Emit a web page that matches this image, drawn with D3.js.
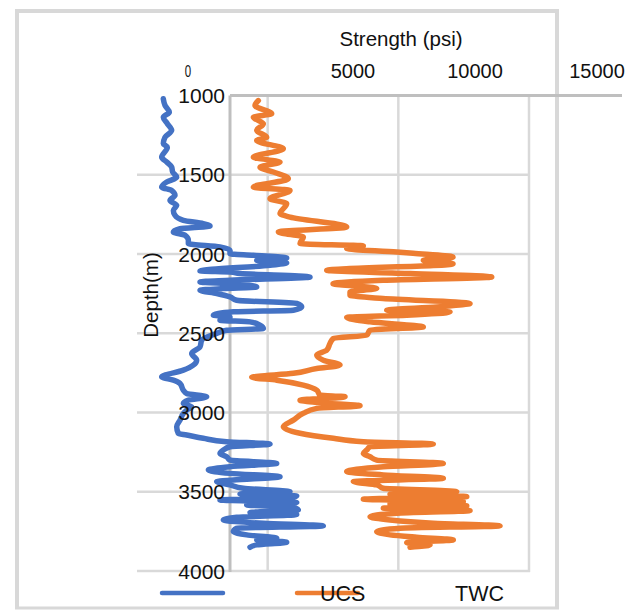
<!DOCTYPE html>
<html>
<head>
<meta charset="utf-8">
<script src="https://cdn.jsdelivr.net/npm/d3@7"></script>
<style>
  html, body { margin: 0; padding: 0; background: #fff; }
  svg { display: block; font-family: "Liberation Sans", Arial, sans-serif; }
</style>
</head>
<body>
<svg id="chart" width="638" height="611"></svg>
<script>
// Depth axis ticks (m) and strength axis ticks (psi)
const depthTicks = [1000, 1500, 2000, 2500, 3000, 3500, 4000];
const strengthTicks = [0, 5000, 10000, 15000];
const gridStrength = [5000, 10000, 15000];

// TWC log (blue): depth in m, strength in psi
const twcDepth = [1021,1063,1105,1137,1178,1220,1263,1304,1326,1389,1420,1452,1483,1515,1546,1578,1599,1630,1662,1693,1725,1756,1788,1808,1823,1840,1861,1882,1914,1934,1956,1977,1998,2008,2025,2040,2057,2071,2107,2113,2123,2145,2166,2176,2187,2208,2218,2229,2249,2271,2292,2312,2334,2355,2365,2386,2397,2418,2428,2449,2470,2481,2501,2544,2586,2628,2670,2701,2733,2775,2796,2817,2859,2880,2901,2922,2943,2964,2985,3006,3048,3090,3132,3142,3163,3184,3199,3216,3237,3258,3279,3300,3321,3342,3363,3384,3405,3426,3436,3457,3478,3499,3514,3526,3541,3552,3568,3583,3598,3615,3631,3644,3661,3678,3699,3715,3730,3751,3772,3793,3804,3818,3835,3850];
const twcValue = [1007,1072,1237,1007,1161,1327,1072,1007,1161,944,1136,1327,1365,1519,1136,944,1327,1454,1263,1519,1391,1454,1773,2537,2794,1646,1391,1837,1965,1965,3176,3559,3559,4452,5728,4580,5728,5090,2411,3559,3942,6621,3559,2411,3559,4580,3303,2411,3050,3559,3814,6112,6303,5982,3686,2921,3559,3176,4325,4707,4835,3431,3050,2474,2411,2092,2283,2155,1773,944,1391,1646,1773,1901,2666,1965,1773,2092,1901,1773,1646,1519,1582,1901,2537,3431,5090,3559,3303,3176,3431,3559,5346,3559,2730,3559,5473,3686,3050,3559,4070,5855,3942,6112,5728,3176,6112,4198,5982,6173,4325,6112,3814,3303,4835,7130,3814,3686,4198,5346,4580,5728,4580,4325];

// UCS log (orange): depth in m, strength in psi
const ucsDepth = [1032,1063,1115,1137,1178,1220,1263,1284,1336,1389,1420,1452,1483,1525,1578,1599,1651,1682,1745,1767,1830,1861,1893,1934,1949,1966,1987,1995,2019,2040,2062,2103,2123,2145,2166,2187,2218,2239,2260,2281,2312,2334,2355,2365,2386,2400,2428,2460,2481,2512,2533,2564,2607,2638,2670,2701,2722,2753,2778,2796,2827,2859,2890,2901,2922,2943,2957,2974,3005,3048,3090,3131,3163,3184,3199,3216,3237,3258,3279,3300,3321,3342,3373,3394,3415,3436,3457,3478,3499,3514,3531,3547,3562,3577,3589,3604,3619,3635,3657,3678,3698,3715,3730,3751,3772,3787,3804,3821,3835,3850];
const ucsValue = [4643,4516,5155,4452,4835,4580,4963,4580,5600,4452,5473,4707,5218,5791,4452,5855,5090,5728,5473,5855,8025,5409,6367,6238,8661,8025,9939,10563,12093,10957,12093,7260,10448,13575,9414,7501,9173,8151,8151,9414,12744,11470,9556,11979,10321,8025,8917,10957,8917,8791,7512,7386,7260,6877,7130,7769,6877,5982,4390,5346,6364,6877,7003,7960,6238,7386,8534,6877,6364,5982,5600,6238,7512,8661,11339,8917,8791,8661,8917,9173,11722,9426,8025,9426,11722,8278,9173,9426,12235,9682,12618,8661,12487,9682,12618,9426,12744,9939,8917,9682,11339,13892,10065,9173,9682,10704,12105,10321,11213,10448];

const seriesColors = { TWC: "#4472C4", UCS: "#ED7D31" };
const axisTitle = "Strength (psi)";
const depthTitle = "Depth(m)";

const svg = d3.select("#chart");

// Scales
const x = d3.scaleLinear().domain([0, 15000]).range([137, 529]);
const xLabel = d3.scaleLinear().domain([0, 15000]).range([231, 597]);
const y = d3.scaleLinear().domain([1000, 4000]).range([95.5, 571]);

// Outer frame
const frame = svg.append("g").attr("fill", "none").attr("stroke", "#d8d8d8");
frame.append("line").attr("x1", 15).attr("x2", 559).attr("y1", 11).attr("y2", 11).attr("stroke-width", 4);
frame.append("line").attr("x1", 17).attr("x2", 17).attr("y1", 9).attr("y2", 609).attr("stroke-width", 4);
frame.append("line").attr("x1", 557).attr("x2", 557).attr("y1", 9).attr("y2", 609).attr("stroke-width", 4);
frame.append("line").attr("x1", 15).attr("x2", 559).attr("y1", 608).attr("y2", 608).attr("stroke-width", 3);

// Grid
const grid = svg.append("g").attr("stroke", "#d9d9d9").attr("stroke-width", 2.5);
grid.selectAll("line.h").data(depthTicks.slice(1)).join("line")
  .attr("class", "h")
  .attr("x1", x(0)).attr("x2", x(15000) + 1)
  .attr("y1", d => y(d)).attr("y2", d => y(d));
grid.selectAll("line.v").data(gridStrength).join("line")
  .attr("class", "v")
  .attr("x1", d => x(d)).attr("x2", d => x(d))
  .attr("y1", y(1000)).attr("y2", y(4000) + 1);

// Axis lines
const axisG = svg.append("g").attr("stroke", "#bfbfbf").attr("stroke-width", 3);
axisG.append("line").attr("x1", 230).attr("x2", 622).attr("y1", y(1000)).attr("y2", y(1000));
axisG.append("line").attr("x1", 230).attr("x2", 230).attr("y1", y(1000)).attr("y2", y(4000) + 1);

// Series
const line = d3.line()
  .x(d => x(d[1]))
  .y(d => y(d[0]))
  .curve(d3.curveMonotoneY);

const series = [
  { name: "TWC", pts: d3.zip(twcDepth, twcValue) },
  { name: "UCS", pts: d3.zip(ucsDepth, ucsValue) }
];
svg.append("g").selectAll("path").data(series).join("path")
  .attr("d", d => line(d.pts))
  .attr("fill", "none")
  .attr("stroke", d => seriesColors[d.name])
  .attr("stroke-width", 5.5)
  .attr("stroke-linejoin", "round")
  .attr("stroke-linecap", "round");

// Depth tick labels
svg.append("g").selectAll("text").data(depthTicks).join("text")
  .attr("x", 225)
  .attr("y", d => y(d) + 7.5)
  .attr("text-anchor", "end")
  .attr("font-size", 21)
  .attr("fill", "#111")
  .text(d => d);

// Strength tick labels (the zero label is set narrower and to the left)
svg.append("g").selectAll("text").data(strengthTicks).join("text")
  .attr("transform", d => d === 0
    ? `translate(${xLabel(d) - 43},77) scale(0.72,1)`
    : `translate(${xLabel(d)},78)`)
  .attr("text-anchor", "middle")
  .attr("font-size", d => d === 0 ? 16 : 20)
  .attr("fill", "#111")
  .text(d => d);

// Axis titles
svg.append("text")
  .attr("x", 401).attr("y", 46)
  .attr("text-anchor", "middle")
  .attr("font-size", 20.5)
  .attr("fill", "#111")
  .text(axisTitle);

svg.append("text")
  .attr("transform", `translate(158,295) rotate(-90)`)
  .attr("text-anchor", "middle")
  .attr("font-size", 20.5)
  .attr("fill", "#111")
  .text(depthTitle);

// Legend
const legend = svg.append("g");
legend.append("line").attr("x1", 162).attr("x2", 223).attr("y1", 593).attr("y2", 593)
  .attr("stroke", seriesColors.TWC).attr("stroke-width", 4.5).attr("stroke-linecap", "round");
legend.append("line").attr("x1", 297).attr("x2", 358).attr("y1", 593).attr("y2", 593)
  .attr("stroke", seriesColors.UCS).attr("stroke-width", 4.5).attr("stroke-linecap", "round");
legend.append("text").attr("x", 320).attr("y", 601).attr("font-size", 21.5).attr("fill", "#111").text("UCS");
legend.append("text").attr("x", 455).attr("y", 601).attr("font-size", 21.5).attr("fill", "#111").text("TWC");
</script>
</body>
</html>
